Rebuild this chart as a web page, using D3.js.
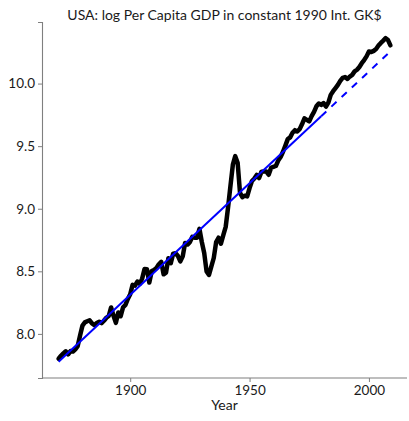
<!DOCTYPE html>
<html>
<head>
<meta charset="utf-8">
<script src="https://cdn.jsdelivr.net/npm/d3@7"></script>
<style>
  body { margin: 0; background: #fff; }
  text { font-family: Lato, "Open Sans", sans-serif; }
</style>
</head>
<body>
<div id="chart"></div>
<script>
// USA GDP per capita, 1990 Int. GK$ (Maddison), one value per year from firstYear
var firstYear = 1870;
var gdpPerCapita = [
  2445, 2503, 2552, 2595, 2532, 2599, 2589, 2636, 2704, 2945,
  3184, 3268, 3298, 3324, 3241, 3199, 3255, 3287, 3250, 3311,
  3392, 3439, 3682, 3443, 3257, 3539, 3433, 3687, 3757, 3941,
  4091, 4410, 4382, 4530, 4445, 4635, 5005, 4998, 4495, 4921,
  4964, 5046, 5201, 5301, 4799, 4864, 5459, 5248, 5659, 5680,
  5552, 5323, 5540, 6164, 6087, 6205, 6476, 6428, 6430, 6899,
  6213, 5691, 4908, 4777, 5114, 5467, 6204, 6430, 6126, 6561,
  7010, 8206, 9741, 11518, 12333, 11709, 9197, 8886, 8995, 8944,
  9561, 10116, 10316, 10613, 10359, 10897, 10914, 10920, 10631, 11230,
  11328, 11402, 11905, 12242, 12773, 13419, 14134, 14330, 14863, 15179,
  15030, 15304, 15944, 16689, 16491, 16284, 16975, 17567, 18373, 18789,
  18577, 18856, 18325, 18920, 20123, 20717, 21236, 21788, 22499, 23059,
  23201, 22849, 23298, 23616, 24279, 24603, 25161, 25924, 26577, 27373,
  28467, 28336, 28604, 29037, 29843, 30483, 31049, 31655, 31178, 29899
];

// log-linear trend: fitted over the early years, extrapolated (dashed) after
var trendStartLog = 7.777;
var trendGrowth = 0.01784;
var trendFitEnd = 1980;

var yTicks = [8.0, 8.5, 9.0, 9.5, 10.0];
var xTicks = [1900, 1950, 2000];

var series = gdpPerCapita.map(function(v, i) {
  return { year: firstYear + i, value: Math.log(v) };
});
var lastYear = series[series.length - 1].year;

function trendAt(yr) { return trendStartLog + trendGrowth * (yr - firstYear); }
var trendSolid = [firstYear, trendFitEnd].map(function(yr) { return { year: yr, value: trendAt(yr) }; });
var trendDashed = [trendFitEnd, lastYear].map(function(yr) { return { year: yr, value: trendAt(yr) }; });

var width = 409, height = 421;
var margin = { top: 22, right: 2, bottom: 43, left: 42 };

var svg = d3.select("#chart").append("svg")
    .attr("width", width)
    .attr("height", height);

// ggplot-style 5% padding on both scales
var allVals = series.map(d => d.value).concat(trendSolid.map(d => d.value), trendDashed.map(d => d.value));
var yMin = d3.min(allVals), yMax = d3.max(allVals);
var yPad = (yMax - yMin) * 0.05;
var xPad = (lastYear - firstYear) * 0.05;

var x = d3.scaleLinear()
    .domain([firstYear - xPad, lastYear + xPad])
    .range([margin.left, width - margin.right]);
var y = d3.scaleLinear()
    .domain([yMin - yPad, yMax + yPad])
    .range([height - margin.bottom, margin.top]);

var xAxis = svg.append("g")
    .attr("transform", "translate(0," + (height - margin.bottom) + ")")
    .call(d3.axisBottom(x).tickValues(xTicks).tickFormat(d3.format("d")).tickSize(4).tickPadding(3));
var yAxis = svg.append("g")
    .attr("transform", "translate(" + margin.left + ",0)")
    .call(d3.axisLeft(y).tickValues(yTicks).tickFormat(d3.format(".1f")).tickSize(4).tickPadding(3));

[xAxis, yAxis].forEach(function(ax) {
  ax.select(".domain").attr("stroke", "#7f7f7f").attr("stroke-width", 1.1);
  ax.selectAll(".tick line").attr("stroke", "#7f7f7f");
  ax.selectAll(".tick text").attr("fill", "#1a1a1a").style("font-size", "13.5px");
});
// axis lines run the full panel, not just domain ends
xAxis.select(".domain").attr("d", "M" + margin.left + ",0H" + (width - margin.right));

var line = d3.line()
    .x(d => x(d.year))
    .y(d => y(d.value));

svg.append("path")
    .datum(series)
    .attr("fill", "none")
    .attr("stroke", "#000")
    .attr("stroke-width", 4.5)
    .attr("stroke-linejoin", "round")
    .attr("stroke-linecap", "round")
    .attr("d", line);

svg.append("path")
    .datum(trendSolid)
    .attr("fill", "none")
    .attr("stroke", "#0000ff")
    .attr("stroke-width", 2)
    .attr("d", line);

svg.append("path")
    .datum(trendDashed)
    .attr("fill", "none")
    .attr("stroke", "#0000ff")
    .attr("stroke-width", 2)
    .attr("stroke-dasharray", "7,7")
    .attr("d", line);

var midX = (margin.left + width - margin.right) / 2;

svg.append("text")
    .attr("x", midX)
    .attr("y", 20)
    .attr("text-anchor", "middle")
    .attr("fill", "#1a1a1a")
    .style("font-size", "14px")
    .text("USA: log Per Capita GDP in constant 1990 Int. GK$");

svg.append("text")
    .attr("x", midX)
    .attr("y", 410)
    .attr("text-anchor", "middle")
    .attr("fill", "#1a1a1a")
    .style("font-size", "14px")
    .text("Year");
</script>
</body>
</html>
